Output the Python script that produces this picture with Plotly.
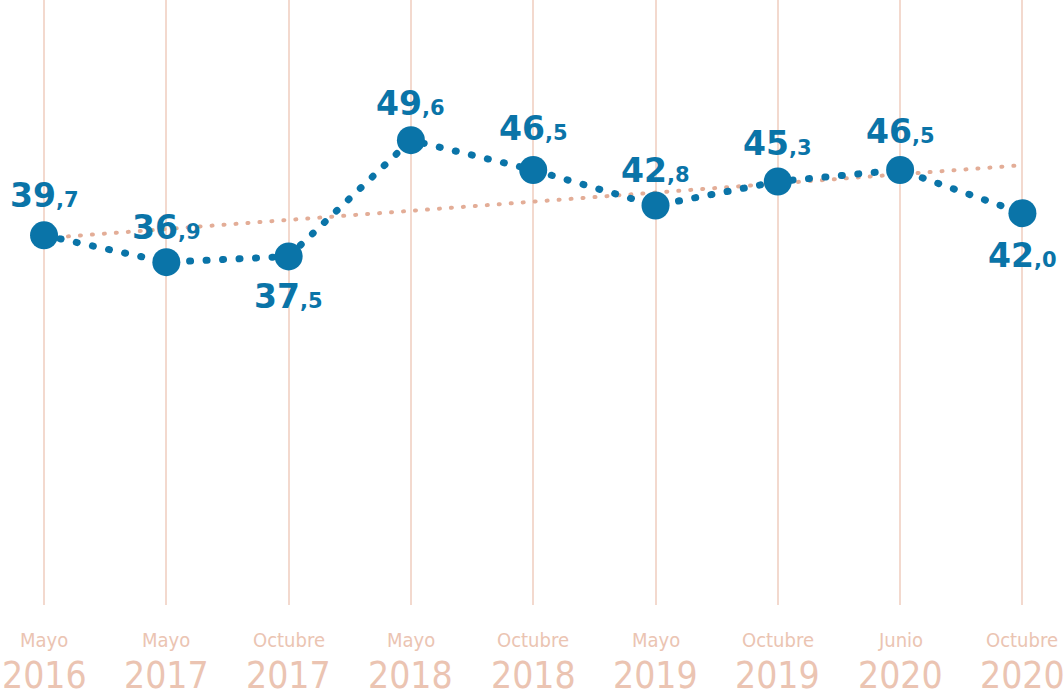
import plotly.graph_objects as go

months = ["Mayo", "Mayo", "Octubre", "Mayo", "Octubre", "Mayo", "Octubre", "Junio", "Octubre"]
years = ["2016", "2017", "2017", "2018", "2018", "2019", "2019", "2020", "2020"]
values = [39.7, 36.9, 37.5, 49.6, 46.5, 42.8, 45.3, 46.5, 42.0]
label_shift = [40, 35, -40, 37, 41, 35, 38, 38, -42]
trend_values = [39.4, 47.0]

cats = [f"{m} {y}" for m, y in zip(months, years)]

BLUE = "#0a74a8"
GRID = "#f3d9ce"
LABEL = "#ebc4b2"
TREND = "#e3ad97"
COND = "DejaVu Sans Condensed, Liberation Sans Narrow"

fig = go.Figure()

fig.add_trace(go.Scatter(
    x=[cats[0], cats[-1]], y=trend_values, mode="lines",
    line=dict(color=TREND, width=4, dash="1px,11px"),
    hoverinfo="skip", showlegend=False))

fig.add_trace(go.Scatter(
    x=cats, y=values, mode="lines+markers",
    line=dict(color=BLUE, width=7, dash="1px,15.5px"),
    marker=dict(color=BLUE, size=28),
    showlegend=False))

for c, v, s in zip(cats, values, label_shift):
    whole, frac = f"{v:.1f}".split(".")
    fig.add_annotation(
        x=c, y=v, yshift=s, showarrow=False, xanchor="center", yanchor="middle",
        text=f"<b>{whole}</b><span style='font-size:21px'><b>,{frac}</b></span>",
        font=dict(family="DejaVu Sans", size=33, color=BLUE))

for c, m, y in zip(cats, months, years):
    fig.add_annotation(
        x=c, y=0, yref="paper", yshift=-35, showarrow=False,
        xanchor="center", yanchor="middle", text=m,
        font=dict(family=COND, size=20, color=LABEL))
    fig.add_annotation(
        x=c, y=0, yref="paper", yshift=-70, showarrow=False,
        xanchor="center", yanchor="middle", text=y,
        font=dict(family=COND, size=37, color=LABEL))

fig.update_layout(
    width=1064, height=700,
    margin=dict(l=0, r=0, t=0, b=95),
    paper_bgcolor="white", plot_bgcolor="white",
    xaxis=dict(type="category", categoryorder="array", categoryarray=cats,
               range=[-0.36, 8.34], showgrid=True, gridcolor=GRID,
               gridwidth=1.5, showticklabels=False, zeroline=False, showline=False),
    yaxis=dict(range=[1.2, 64.2], showgrid=False, showticklabels=False,
               zeroline=False, showline=False),
)

post = """
document.body.style.margin = '0';
document.body.style.overflow = 'hidden';
var paths = document.querySelectorAll('.scatterlayer .js-line');
paths.forEach(function(p){ p.style.strokeLinecap = 'round'; });
"""

fig.write_html("out.html", post_script=post, config={"displayModeBar": False})
